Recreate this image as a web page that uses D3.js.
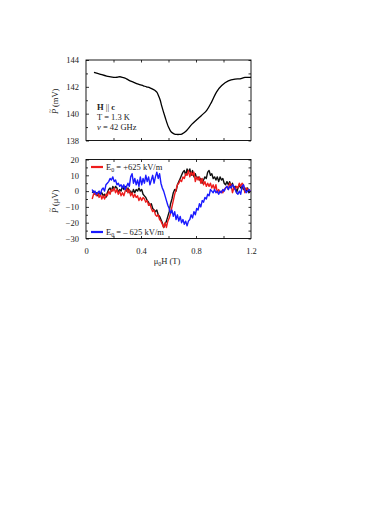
<!DOCTYPE html>
<html>
<head>
<meta charset="utf-8">
<script src="https://cdn.jsdelivr.net/npm/d3@7"></script>
<style>
  body { margin: 0; background: #fff; }
  svg, svg text { font-family: "Liberation Serif", "DejaVu Serif", serif; }
</style>
</head>
<body>
<svg id="chart" width="374" height="528"></svg>
<script>
// top panel: dc polarization vs field
const topField = [0.058, 0.10, 0.15, 0.18, 0.21, 0.23, 0.247, 0.265, 0.284, 0.31, 0.344, 0.38, 0.417, 0.44, 0.465, 0.50, 0.515, 0.526, 0.54, 0.55, 0.575, 0.60, 0.62, 0.64, 0.66, 0.68, 0.696, 0.715, 0.732, 0.769, 0.805, 0.84, 0.878, 0.914, 0.95, 0.987, 1.035, 1.084, 1.12, 1.156, 1.19, 1.2];
const topP = [143.08, 142.95, 142.8, 142.75, 142.7, 142.72, 142.75, 142.7, 142.65, 142.5, 142.35, 142.2, 142.08, 142.0, 141.93, 141.75, 141.6, 141.37, 141.0, 140.6, 139.75, 139.0, 138.63, 138.5, 138.45, 138.45, 138.47, 138.6, 138.75, 139.2, 139.55, 139.87, 140.25, 140.88, 141.63, 142.1, 142.45, 142.58, 142.6, 142.7, 142.7, 142.72];

// bottom panel: ac polarization
const fieldH = [0.045, 0.055, 0.065, 0.075, 0.085, 0.095, 0.105, 0.115, 0.125, 0.135, 0.145, 0.155, 0.165, 0.175, 0.185, 0.195, 0.205, 0.215, 0.225, 0.235, 0.245, 0.255, 0.265, 0.275, 0.285, 0.295, 0.305, 0.315, 0.325, 0.335, 0.345, 0.355, 0.365, 0.375, 0.385, 0.395, 0.405, 0.415, 0.425, 0.435, 0.445, 0.455, 0.465, 0.475, 0.485, 0.495, 0.505, 0.515, 0.525, 0.535, 0.545, 0.555, 0.565, 0.575, 0.585, 0.595, 0.605, 0.615, 0.625, 0.635, 0.645, 0.655, 0.665, 0.675, 0.685, 0.695, 0.705, 0.715, 0.725, 0.735, 0.745, 0.755, 0.765, 0.775, 0.785, 0.795, 0.805, 0.815, 0.825, 0.835, 0.845, 0.855, 0.865, 0.875, 0.885, 0.895, 0.905, 0.915, 0.925, 0.935, 0.945, 0.955, 0.965, 0.975, 0.985, 0.995, 1.005, 1.015, 1.025, 1.035, 1.045, 1.055, 1.065, 1.075, 1.085, 1.095, 1.105, 1.115, 1.125, 1.135, 1.145, 1.155, 1.165, 1.175, 1.185, 1.195];
const pZero = [-1, 0, -2, -1, -3, -1, -2, -1, -3, -2, -4, -1, 1, 2, 0, 3, 1, 3, 2, -1, 1, 0, 3, 1, 3, 0, 2, -1, 0, -2, 1, -1, 1, 0, 2, 0, 1, -2, -3, -4, -6, -7, -9, -8, -11, -12, -13, -12, -15, -16, -18, -20, -23, -21, -19, -16, -13, -8, -5, -1, 1, 0, 4, 6, 8, 10, 12, 13, 10, 14, 12, 14, 10, 13, 9, 11, 8, 9, 7, 8, 5, 7, 9, 8, 12, 13, 10, 11, 8, 9, 7, 9, 6, 9, 7, 8, 5, 4, 6, 4, 6, 3, 5, 2, 3, -1, 2, 4, 2, 3, 1, 2, 0, 2, -1, 0];
const pPlus = [-5, -2, -1, -3, -1, -4, -2, -5, -3, -5, -2, -3, 0, -2, 1, 0, 2, -1, 1, -2, 0, -3, -1, -3, 0, 2, -1, 1, -3, -1, -4, -2, -4, -3, -6, -4, -6, -4, -5, -7, -6, -9, -8, -11, -13, -12, -15, -16, -15, -18, -19, -21, -23, -20, -23, -19, -17, -14, -10, -6, -2, 1, 4, 5, 7, 6, 9, 8, 11, 10, 13, 9, 12, 10, 12, 6, 9, 7, 9, 5, 8, 4, 6, 3, 5, 3, 5, 2, 4, 1, 4, -1, 1, -1, 0, -1, 1, 2, 3, 1, 5, 4, -1, 2, 1, 3, 2, 5, 3, 5, 4, -1, 2, 1, 1, 0];
const pMinus = [1, -1, 0, -2, -1, 0, -2, 1, 2, 0, 4, 5, 6, 8, 7, 9, 6, 7, 4, 5, 3, 4, 2, 4, 1, 3, 5, 3, 9, 11, 5, 8, 4, 7, 3, 9, 4, 8, 5, 10, 6, 9, 4, 7, 10, 5, 9, 12, 8, 11, 5, 2, 0, -3, -6, -9, -11, -14, -12, -16, -13, -18, -15, -19, -16, -20, -18, -21, -19, -22, -19, -18, -15, -17, -13, -15, -11, -12, -8, -10, -6, -7, -4, -5, -2, -3, 1, 0, -1, 1, -1, 0, -2, 0, -1, 1, 0, 2, 3, 1, 3, 2, 4, 3, 1, -1, -2, 0, -2, 3, 4, 1, -1, 0, 1, 0];

const topTicks = [138, 140, 142, 144];
const bottomTicks = [-30, -20, -10, 0, 10, 20];
const fieldTicks = [0, 0.4, 0.8, 1.2];

const legendItems = [
  {label: "+625 kV/m", color: "#ee1c1c"},
  {label: "\u2013 625 kV/m", color: "#1a1aff"}
];

const serif = '"Liberation Serif", "DejaVu Serif", serif';
const svg = d3.select("#chart");
const left = 86, right = 251;

const x = d3.scaleLinear().domain([0, 1.2]).range([left, right]);
const yTop = d3.scaleLinear().domain([138, 144]).range([140.5, 60]);
const yBot = d3.scaleLinear().domain([-30, 20]).range([238.5, 159.5]);

function styleAxis(a) {
  a.select(".domain").remove();
  a.attr("font-family", serif).attr("font-size", 8.5);
  a.selectAll(".tick line").attr("stroke-width", 0.8);
  a.selectAll(".tick text").attr("fill", "#222");
}

function frame(y, t, b, major, minor) {
  const g = svg.append("g");
  g.append("rect")
    .attr("x", left).attr("y", t)
    .attr("width", right - left).attr("height", b - t)
    .attr("fill", "none").attr("stroke", "#000").attr("stroke-width", 0.9);

  // ticks pointing inward on all four sides
  g.append("g").attr("transform", `translate(${left},0)`)
    .call(d3.axisLeft(y).tickValues(major).tickSize(-3).tickPadding(7).tickFormat(d3.format("d")))
    .call(styleAxis);
  g.append("g").attr("transform", `translate(${left},0)`)
    .call(d3.axisLeft(y).tickValues(minor).tickSize(-2).tickFormat(""))
    .call(styleAxis);
  g.append("g").attr("transform", `translate(${right},0)`)
    .call(d3.axisRight(y).tickValues(major.concat(minor)).tickSize(-2.5).tickFormat(""))
    .call(styleAxis);
  g.append("g").attr("transform", `translate(0,${t})`)
    .call(d3.axisTop(x).tickValues([0.2, 0.4, 0.6, 0.8, 1.0]).tickSize(-2.5).tickFormat(""))
    .call(styleAxis);
  g.append("g").attr("transform", `translate(0,${b})`)
    .call(d3.axisBottom(x).tickValues([0.2, 0.4, 0.6, 0.8, 1.0]).tickSize(-2.5).tickFormat(""))
    .call(styleAxis);
}

frame(yTop, 60, 140.5, topTicks, [139, 141, 143]);
frame(yBot, 159.5, 238.5, bottomTicks, [-25, -15, -5, 5, 15]);

// x labels under bottom panel
svg.append("g").attr("transform", "translate(0,238.5)")
  .call(d3.axisBottom(x).tickValues(fieldTicks).tickSize(0).tickPadding(9)
    .tickFormat(d => d === 0 ? "0" : d3.format(".1f")(d)))
  .call(styleAxis);

// top curve
const lineTop = d3.line().x((d, i) => x(topField[i])).y(d => yTop(d)).curve(d3.curveCatmullRom);
svg.append("path").datum(topP)
  .attr("d", lineTop).attr("fill", "none").attr("stroke", "#000").attr("stroke-width", 1.3);

// bottom curves
const lineBot = d3.line().x((d, i) => x(fieldH[i])).y(d => yBot(d));
[[pZero, "#111"], [pPlus, "#ee1c1c"], [pMinus, "#1a1aff"]].forEach(([s, c]) => {
  svg.append("path").datum(s)
    .attr("d", lineBot).attr("fill", "none").attr("stroke", c)
    .attr("stroke-width", 1.4).attr("stroke-linejoin", "round");
});

// annotations
const ann = svg.append("g").attr("font-size", 8.5).attr("fill", "#222");
const t1 = ann.append("text").attr("x", 97).attr("y", 110);
t1.append("tspan").attr("font-weight", "bold").text("H");
t1.append("tspan").text(" || ");
t1.append("tspan").attr("font-weight", "bold").text("c");
ann.append("text").attr("x", 97).attr("y", 120).text("T = 1.3 K");
const t3 = ann.append("text").attr("x", 97).attr("y", 130);
t3.append("tspan").attr("font-style", "italic").text("\u03bd");
t3.append("tspan").text(" = 42 GHz");

// legend
legendItems.forEach((d, i) => {
  const ly = i === 0 ? 167 : 232;
  svg.append("line").attr("x1", 91).attr("x2", 103).attr("y1", ly).attr("y2", ly)
    .attr("stroke", d.color).attr("stroke-width", 2.2);
  const tx = svg.append("text").attr("x", 106).attr("y", ly + 3).attr("font-size", 8.5).attr("fill", "#222");
  tx.append("tspan").text("E");
  tx.append("tspan").attr("font-size", 6).attr("dy", 2).text("0");
  tx.append("tspan").attr("dy", -2).text(" = " + d.label);
});

// axis titles (P with tilde drawn above it)
function yTitle(cy, unit) {
  const g = svg.append("g").attr("transform", `translate(58,${cy}) rotate(-90)`)
    .attr("font-size", 8.5).attr("fill", "#222");
  g.append("text").attr("x", -14).attr("font-style", "italic").text("P");
  g.append("text").attr("x", -13).attr("y", -6.5).attr("font-size", 7).text("~");
  g.append("text").attr("x", -7).text("(" + unit + ")");
}
yTitle(100, "mV");
yTitle(199, "\u03bcV");

const xt = svg.append("text").attr("x", 167).attr("y", 264)
  .attr("text-anchor", "middle").attr("font-size", 8.5).attr("fill", "#222");
xt.append("tspan").text("\u03bc");
xt.append("tspan").attr("font-size", 6).attr("dy", 2).text("0");
xt.append("tspan").attr("dy", -2).text("H (T)");
</script>
</body>
</html>
